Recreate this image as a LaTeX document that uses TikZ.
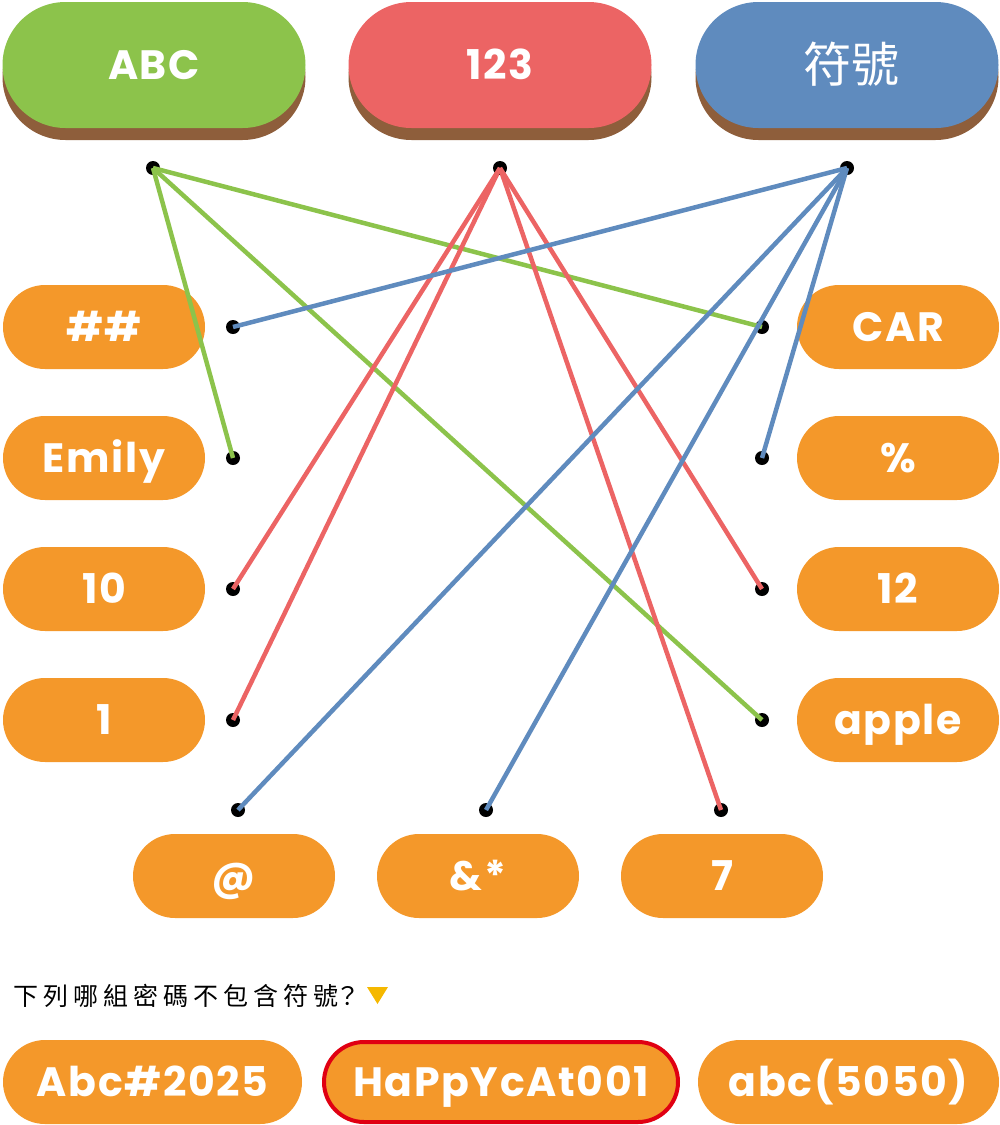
\documentclass[tikz,border=0pt]{standalone}
\usepackage{fontspec}
\newfontfamily\labfont[LetterSpace=4]{Poppins}
\newfontfamily\cjk{Noto Sans CJK TC}
\definecolor{cgreen}{HTML}{8CC34B}
\definecolor{cred}{HTML}{EC6464}
\definecolor{cblue}{HTML}{5F8BBE}
\definecolor{cbrown}{HTML}{8E5E3B}
\definecolor{corange}{HTML}{F4982A}
\definecolor{cborder}{HTML}{E00012}
\definecolor{cyellow}{HTML}{F5B800}
\begin{document}
\begin{tikzpicture}[x=1pt,y=-1pt,
  lab/.style={font=\labfont\bfseries\fontsize{41}{46}\selectfont, text=white, text height=29pt, text depth=0pt},
  pill/.style={lab, fill=corange, minimum width=202pt, minimum height=84pt, rounded corners=42pt, inner sep=0pt},
  toppill/.style={lab, minimum width=303pt, minimum height=126pt, rounded corners=63pt, inner sep=0pt},
  shadowpill/.style={fill=cbrown, minimum width=303pt, minimum height=126pt, rounded corners=63pt, inner sep=0pt},
  dot/.style={circle, fill=black, minimum size=14pt, inner sep=0pt},
  conn/.style={line width=4.5pt},
  ans/.style={lab, fill=corange, minimum height=84pt, rounded corners=42pt, inner sep=0pt}
]
\useasboundingbox (0,0) rectangle (1000,1125);
% top boxes
\node[shadowpill] (sA) at (154,77) {};
\node[shadowpill] (sB) at (500,77) {};
\node[shadowpill] (sC) at (847,77) {};
\node[toppill, fill=cgreen] (tA) at (154,65) {ABC};
\node[toppill, fill=cred] (tB) at (500,65) {123};
\node[toppill, fill=cblue, font=\cjk\fontsize{48}{52}\selectfont, text height=34pt, text depth=0pt] (tC) at (847,65) {\hspace*{8pt}符號};
% left boxes
\node[pill] (bHash) at (104,327) {\#\#};
\node[pill] (bEmily) at (104,458) {Emily};
\node[pill] (bTen) at (104,589) {10};
\node[pill] (bOne) at (104,720) {1};
% right boxes
\node[pill] (bCar) at (898,327) {CAR};
\node[pill] (bPct) at (898,458) {\%};
\node[pill] (bTwelve) at (898,589) {12};
\node[pill] (bApple) at (898,720) {apple};
% bottom boxes
\node[pill] (bAt) at (234,876) {@};
\node[pill] (bAmp) at (478,876) {\&*};
\node[pill] (bSeven) at (722,876) {7};
% dots
\node[dot] (dA) at (153,168) {};
\node[dot] (dB) at (500,168) {};
\node[dot] (dC) at (847,168) {};
\node[dot] (dHash) at (233,327) {};
\node[dot] (dEmily) at (233,458) {};
\node[dot] (dTen) at (233,589) {};
\node[dot] (dOne) at (233,720) {};
\node[dot] (dCar) at (762,327) {};
\node[dot] (dPct) at (762,458) {};
\node[dot] (dTwelve) at (762,589) {};
\node[dot] (dApple) at (762,720) {};
\node[dot] (dAt) at (238,810) {};
\node[dot] (dAmp) at (486,810) {};
\node[dot] (dSeven) at (721,810) {};
% connectors
\draw[conn, cgreen] (dA.center) -- (dEmily.center);
\draw[conn, cgreen] (dA.center) -- (dCar.center);
\draw[conn, cgreen] (dA.center) -- (dApple.center);
\draw[conn, cred] (dB.center) -- (dTen.center);
\draw[conn, cred] (dB.center) -- (dOne.center);
\draw[conn, cred] (dB.center) -- (dTwelve.center);
\draw[conn, cred] (dB.center) -- (dSeven.center);
\draw[conn, cblue] (dC.center) -- (dHash.center);
\draw[conn, cblue] (dC.center) -- (dPct.center);
\draw[conn, cblue] (dC.center) -- (dAt.center);
\draw[conn, cblue] (dC.center) -- (dAmp.center);
% question
\node[anchor=west, inner sep=0pt, font=\cjk\fontsize{25}{28}\selectfont] (q) at (13,996) {{\addfontfeatures{LetterSpace=20}下列哪組密碼不包含符號}\kern-3pt？};
\fill[cyellow] (367,987) -- (388,987) -- (377.5,1004) -- cycle;
% answers
\node[ans, minimum width=299pt] (a1) at (152.5,1082) {Abc\#2025};
\node[ans, minimum width=354pt, minimum height=80pt, rounded corners=40pt, draw=cborder, line width=4pt] (a2) at (501,1082) {HaPpYcAt001};
\node[ans, minimum width=301pt] (a3) at (848.5,1082) {abc(5050)};
\end{tikzpicture}
\end{document}
